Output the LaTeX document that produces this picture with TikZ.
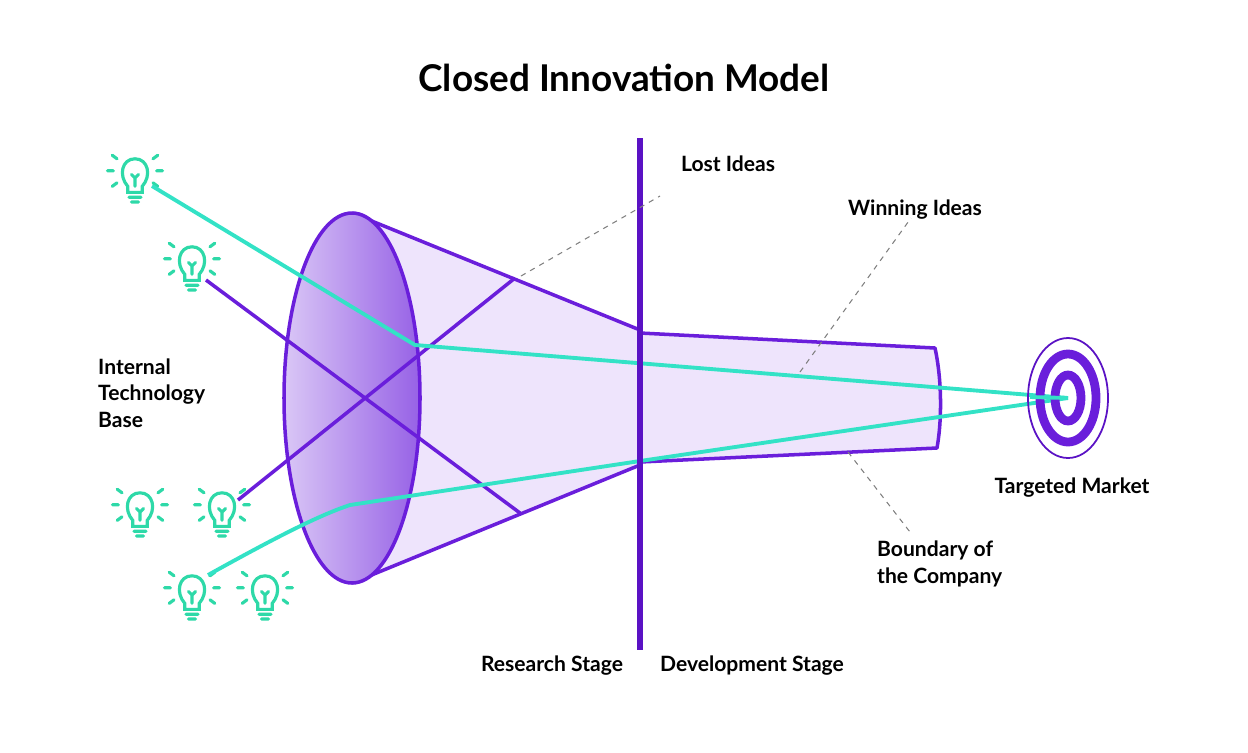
\documentclass[tikz,border=0pt]{standalone}
\usepackage{fontspec}
\setmainfont{Lato}
\usetikzlibrary{positioning}
\definecolor{deeppurple}{HTML}{5A12C4}
\definecolor{conepurple}{HTML}{6A1EDB}
\definecolor{lavender}{HTML}{EEE4FC}
\definecolor{teal}{HTML}{33E2C6}
\definecolor{bulbgreen}{HTML}{2ED9A8}
\tikzset{
  edge/.style={draw=conepurple, line width=2pt, line join=round},
  ray/.style={teal, line width=2.2pt},
  hint/.style={gray, dashed, line width=0.6pt},
  caption/.style={font=\bfseries\fontsize{12}{15}\selectfont, align=left},
  bulb/.pic={
    \draw[bulbgreen, line width=1.8pt, line cap=round, scale=1.2]
      (-6,7) .. controls (-14,-2) and (-11,-16) .. (0,-16)
      .. controls (11,-16) and (14,-2) .. (6,7) -- (6,12) -- (-6,12) -- cycle
      (-5,16) -- (5,16) (-3,20) -- (3,20)
      (0,7) -- (0,0) (-3,-3) -- (0,0) -- (3,-3)
      (-18,-6) -- (-23,-6) (18,-6) -- (23,-6)
      (-15,-16) -- (-19,-19) (15,-16) -- (19,-19)
      (-15,4) -- (-19,7) (15,4) -- (19,7);
  }
}
\begin{document}
\begin{tikzpicture}[x=0.02cm, y=-0.02cm]
  \useasboundingbox (0,0) rectangle (1248,752);

  \node (title) at (624,78) {\bfseries\fontsize{21}{25}\selectfont Closed Innovation Model};

  % research cone
  \fill[lavender] (352,213) -- (640,330) -- (640,465) -- (352,583) -- cycle;
  \draw[edge] (352,213) -- (640,330) (352,583) -- (640,465);
  % development tube
  \filldraw[edge, fill=lavender] (640,333) -- (935,348)
    .. controls (942,380) and (942,420) .. (937,448) -- (640,462);
  % mouth of the cone
  \shade[left color=conepurple!25!white, right color=conepurple!70!white]
    (352,398) ellipse [x radius=68, y radius=185];
  \draw[edge] (352,398) ellipse [x radius=68, y radius=185];

  % bulbs
  \foreach \bx/\by [count=\i] in {135/178, 192/266, 140/512, 222/512, 192/595, 265/595}
    \pic (bulb\i) at (\bx,\by) {bulb};
  \coordinate (b1) at (152,186);
  \coordinate (b2) at (206,280);
  \coordinate (b4) at (238,500);
  \coordinate (b5) at (208,575);

  % crossing ideas
  \coordinate (xtop) at (515,278);
  \coordinate (xbot) at (520,513);
  \draw[edge] (b2) -- (xbot) (b4) -- (xtop);

  % winning ideas
  \coordinate (target) at (1068,398);
  \draw[ray] (b1) -- (415,345) -- (target);
  \draw[ray] (b5) .. controls (280,535) and (320,515) .. (350,505) -- (640,461) -- (target);

  % boundary between stages
  \draw[deeppurple, line width=3.5pt] (640,138) -- (640,650);

  % target
  \draw[deeppurple, line width=1pt] (target) ellipse [x radius=40, y radius=60];
  \draw[conepurple, line width=5pt] (target) ellipse [x radius=28, y radius=44];
  \draw[conepurple, line width=5pt] (target) ellipse [x radius=13, y radius=23];
  \draw[ray] (1030,397) -- (target);

  % labels
  \node[caption] (lost) at (728,164) {Lost Ideas};
  \node[caption] (winning) at (915,210) {Winning Ideas};
  \node[caption, anchor=west] (base) at (92,393) {Internal\\Technology\\Base};
  \node[caption] (market) at (1072,488) {Targeted Market};
  \node[caption, anchor=west] (boundary) at (871,564) {Boundary of\\the Company};
  \node[caption] (research) at (552,666) {Research Stage};
  \node[caption] (development) at (752,666) {Development Stage};

  \draw[hint] (521,276) -- (660,196);
  \draw[hint] (800,372) -- (911,218);
  \draw[hint] (848,452) -- (910,532);
\end{tikzpicture}
\end{document}
